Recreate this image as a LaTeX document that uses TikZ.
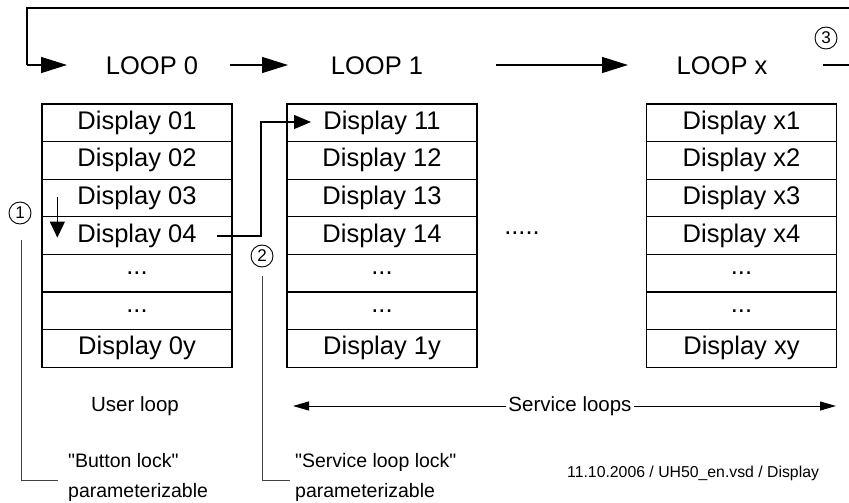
\documentclass[tikz,border=0pt]{standalone}
\usepackage{fontspec}
\setmainfont{Liberation Sans}[Ligatures=TeXOff]
\usetikzlibrary{arrows.meta,calc}

\tikzset{
  cell/.style={draw, line width=1.3pt, minimum width=190pt, minimum height=37.6pt,
               inner sep=0pt, font=\fontsize{25.5}{30}\selectfont},
  celltext/.style={inner sep=0pt, font=\fontsize{25.5}{30}\selectfont},
  looplabel/.style={inner sep=0pt, font=\fontsize{25.5}{30}\selectfont},
  bigarrow/.style={line width=1.3pt, -{Triangle[length=26pt,width=16pt]}},
  midarrow/.style={line width=1.3pt, -{Triangle[length=16pt,width=15pt]}},
  smallarrow/.style={line width=1.1pt, -{Triangle[length=17pt,width=14pt]}},
  spanarrow/.style={line width=1pt, {Triangle[length=16pt,width=9pt]}-{Triangle[length=16pt,width=9pt]}},
  callout/.style={line width=0.9pt, draw=black!75},
  marker/.style={draw, circle, line width=0.9pt, minimum size=22pt, inner sep=0pt,
                 font=\fontsize{17}{18}\selectfont},
  note/.style={inner sep=0pt, align=left, font=\fontsize{19.5}{30}\selectfont},
  caption/.style={inner sep=0pt, font=\fontsize{20.5}{24}\selectfont},
}

\begin{document}
\begin{tikzpicture}[x=1pt, y=-1pt]
\useasboundingbox (0,0) rectangle (849,503);

% loop headers
\node[looplabel] (loop0) at (152,66) {LOOP 0};
\node[looplabel] (loop1) at (377,66) {LOOP 1};
\node[looplabel] (loopx) at (722,66) {LOOP x};

% display tables: three columns of seven rows
\foreach \c/\x/\p in {0/137/0, 1/382/1, x/741.5/x}{
  \foreach \r/\lab in {1/{Display \p1}, 2/{Display \p2}, 3/{Display \p3},
                       4/{Display \p4}, 5/{...}, 6/{...}, 7/{Display \p y}}{
    \node[cell] (c\c-\r) at (\x, 104+37.6*\r-18.8) {};
    \node[celltext] (t\c-\r) at (c\c-\r) {\lab};
  }
}
\node[celltext] (dots) at (522,233) {.....};

% loop sequence arrows
\coordinate (topleft) at (27,8);
\coordinate (topright) at (849,8);
\coordinate (in0) at (27,65);
\coordinate (tip0) at (67,65);
\draw[line width=1.3pt] (topright) -- (topleft) -- (in0);
\draw[bigarrow] (in0) -- (tip0);
\coordinate (a1s) at (230,65);
\coordinate (a1e) at (288,65);
\draw[bigarrow] (a1s) -- (a1e);
\coordinate (a2s) at (496,65);
\coordinate (a2e) at (628,65);
\draw[bigarrow] (a2s) -- (a2e);
\coordinate (outs) at (823,65);
\coordinate (oute) at (849,65);
\draw[line width=1.3pt] (outs) -- (oute);
\node[marker] (m3) at (826,38) {3};

% step within the user loop
\coordinate (stepa) at ($(c0-3.west)+(16,-1)$);
\coordinate (stepb) at ($(c0-4.west)+(16,2)$);
\draw[midarrow] (stepa) -- (stepb);

% jump from the user loop into the service loop
\coordinate (jfrom) at (217,236);
\coordinate (jbend) at (261,236);
\coordinate (jtop) at (261,122);
\coordinate (jtip) at (311,122);
\draw[smallarrow] (jfrom) -- (jbend) -- (jtop) -- (jtip);

% callouts
\node[marker] (m1) at (20,213) {1};
\coordinate (l1a) at (21,240);
\coordinate (l1b) at (21,480);
\coordinate (l1c) at (58,480);
\draw[callout] (l1a) -- (l1b) -- (l1c);
\node[note, anchor=west] (n1) at (68,477) {"Button lock"\\parameterizable};

\node[marker] (m2) at (262,256) {2};
\coordinate (l2a) at (262,276);
\coordinate (l2b) at (262,480);
\coordinate (l2c) at (290,480);
\draw[callout] (l2a) -- (l2b) -- (l2c);
\node[note, anchor=west] (n2) at (295,477) {"Service loop lock"\\parameterizable};

% loop categories
\node[caption] (user) at (135,406) {User loop};
\coordinate (sl) at (293,406);
\coordinate (sr) at (836,406);
\draw[spanarrow] (sl) -- (sr);
\node[caption, fill=white, inner xsep=2pt] (service) at (570,406) {Service loops};

% footer
\node[inner sep=0pt, anchor=west, font=\fontsize{15.8}{19}\selectfont] (foot) at (567,473) {11.10.2006 / UH50\_en.vsd / Display};
\end{tikzpicture}
\end{document}
